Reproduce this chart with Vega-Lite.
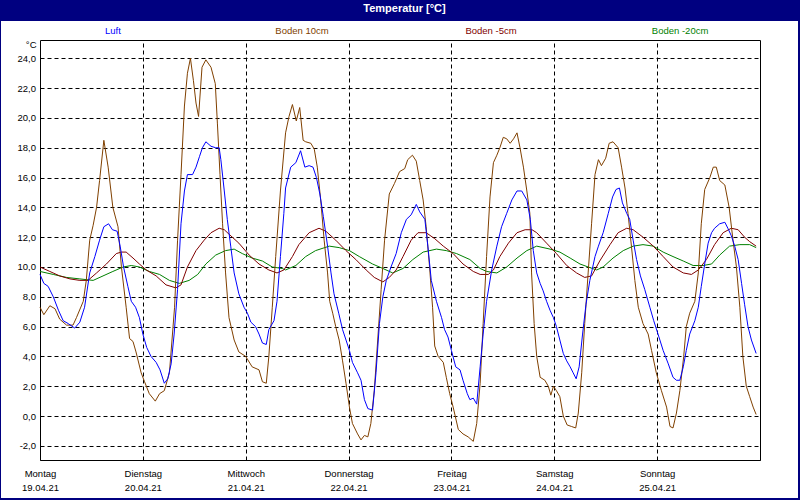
{
 "$schema": "https://vega.github.io/schema/vega-lite/v6.json",
 "autosize": "none",
 "width": 797,
 "height": 477,
 "padding": {"left": 1, "top": 21, "right": 2, "bottom": 2},
 "background": "#000080",
 "config": {
  "view": {"fill": "#ffffff", "stroke": null},
  "font": "Liberation Sans",
  "axis": {"labelFont": "Liberation Sans", "labelFontSize": 9.5, "labelColor": "#000000", "domainColor": "#000000", "domainWidth": 1, "gridColor": "#000000", "gridOpacity": 1, "gridWidth": 1, "gridDash": [4, 3], "ticks": false, "titleFont": "Liberation Sans", "titleFontSize": 9.5, "titleFontWeight": "normal", "titleColor": "#000000"}
 },
 "title": {"text": "Temperatur [°C]", "color": "#ffffff", "font": "Liberation Sans", "fontSize": 11, "fontWeight": "bold", "anchor": "middle", "frame": "group", "baseline": "alphabetic", "offset": 8.3, "dx": 5, "dy": 10.7},
 "datasets": {
  "luft": [{"Zeit":0,"Wert":9.5},{"Zeit":0.9,"Wert":8.9},{"Zeit":1.9,"Wert":8.7},{"Zeit":3.1,"Wert":8.0},{"Zeit":4.3,"Wert":7.1},{"Zeit":5.4,"Wert":6.4},{"Zeit":6.6,"Wert":6.2},{"Zeit":8.1,"Wert":5.9},{"Zeit":9.3,"Wert":6.3},{"Zeit":10.4,"Wert":7.3},{"Zeit":11.6,"Wert":9.6},{"Zeit":12.8,"Wert":10.7},{"Zeit":13.9,"Wert":11.8},{"Zeit":14.9,"Wert":12.7},{"Zeit":16.0,"Wert":12.9},{"Zeit":16.9,"Wert":12.5},{"Zeit":18.0,"Wert":12.4},{"Zeit":18.7,"Wert":11.4},{"Zeit":19.5,"Wert":10.0},{"Zeit":20.5,"Wert":8.7},{"Zeit":21.3,"Wert":7.7},{"Zeit":22.3,"Wert":7.3},{"Zeit":23.2,"Wert":6.6},{"Zeit":24.0,"Wert":5.5},{"Zeit":24.9,"Wert":4.6},{"Zeit":25.9,"Wert":4.0},{"Zeit":27.1,"Wert":3.6},{"Zeit":28.0,"Wert":3.1},{"Zeit":29.0,"Wert":2.2},{"Zeit":29.8,"Wert":2.5},{"Zeit":30.6,"Wert":3.5},{"Zeit":31.3,"Wert":5.5},{"Zeit":32.1,"Wert":8.5},{"Zeit":32.9,"Wert":12.9},{"Zeit":33.7,"Wert":15.1},{"Zeit":34.4,"Wert":16.2},{"Zeit":35.6,"Wert":16.2},{"Zeit":36.4,"Wert":16.7},{"Zeit":37.2,"Wert":17.4},{"Zeit":37.9,"Wert":18.0},{"Zeit":38.7,"Wert":18.4},{"Zeit":39.9,"Wert":18.1},{"Zeit":41.0,"Wert":18.0},{"Zeit":41.8,"Wert":18.0},{"Zeit":42.2,"Wert":17.2},{"Zeit":43.0,"Wert":15.1},{"Zeit":43.7,"Wert":13.2},{"Zeit":44.5,"Wert":11.4},{"Zeit":45.3,"Wert":9.6},{"Zeit":46.4,"Wert":8.2},{"Zeit":47.6,"Wert":7.3},{"Zeit":48.4,"Wert":6.9},{"Zeit":49.2,"Wert":6.3},{"Zeit":50.3,"Wert":6.0},{"Zeit":51.1,"Wert":5.5},{"Zeit":51.9,"Wert":4.9},{"Zeit":52.8,"Wert":4.8},{"Zeit":53.4,"Wert":5.8},{"Zeit":54.6,"Wert":6.4},{"Zeit":55.3,"Wert":7.7},{"Zeit":56.1,"Wert":10.7},{"Zeit":56.9,"Wert":13.6},{"Zeit":57.3,"Wert":15.3},{"Zeit":58.5,"Wert":16.7},{"Zeit":59.7,"Wert":17.0},{"Zeit":60.8,"Wert":17.8},{"Zeit":61.8,"Wert":16.7},{"Zeit":62.8,"Wert":16.8},{"Zeit":63.7,"Wert":16.7},{"Zeit":64.5,"Wert":16.0},{"Zeit":65.3,"Wert":14.9},{"Zeit":66.1,"Wert":13.4},{"Zeit":67.1,"Wert":11.4},{"Zeit":67.9,"Wert":9.6},{"Zeit":68.6,"Wert":8.2},{"Zeit":69.7,"Wert":6.9},{"Zeit":70.6,"Wert":5.8},{"Zeit":71.4,"Wert":5.1},{"Zeit":72.2,"Wert":4.4},{"Zeit":72.9,"Wert":3.6},{"Zeit":74.1,"Wert":2.9},{"Zeit":74.9,"Wert":2.4},{"Zeit":75.7,"Wert":1.1},{"Zeit":76.5,"Wert":0.5},{"Zeit":77.6,"Wert":0.4},{"Zeit":78.4,"Wert":2.9},{"Zeit":79.2,"Wert":6.2},{"Zeit":80.0,"Wert":8.0},{"Zeit":80.8,"Wert":9.1},{"Zeit":81.9,"Wert":10.0},{"Zeit":83.1,"Wert":10.9},{"Zeit":84.3,"Wert":12.3},{"Zeit":85.5,"Wert":13.2},{"Zeit":86.6,"Wert":13.5},{"Zeit":87.8,"Wert":14.2},{"Zeit":88.6,"Wert":13.7},{"Zeit":89.8,"Wert":13.2},{"Zeit":90.5,"Wert":11.4},{"Zeit":91.3,"Wert":9.1},{"Zeit":92.5,"Wert":7.7},{"Zeit":93.7,"Wert":6.6},{"Zeit":94.4,"Wert":5.8},{"Zeit":95.2,"Wert":5.3},{"Zeit":96.0,"Wert":4.4},{"Zeit":97.0,"Wert":3.3},{"Zeit":98.0,"Wert":3.1},{"Zeit":98.7,"Wert":2.4},{"Zeit":99.7,"Wert":1.5},{"Zeit":100.3,"Wert":1.1},{"Zeit":101.1,"Wert":1.2},{"Zeit":101.9,"Wert":0.8},{"Zeit":102.7,"Wert":3.3},{"Zeit":103.4,"Wert":5.5},{"Zeit":104.2,"Wert":7.7},{"Zeit":105.4,"Wert":9.8},{"Zeit":106.6,"Wert":11.4},{"Zeit":107.7,"Wert":12.7},{"Zeit":108.9,"Wert":13.6},{"Zeit":110.1,"Wert":14.5},{"Zeit":111.3,"Wert":15.1},{"Zeit":112.4,"Wert":15.1},{"Zeit":113.6,"Wert":14.5},{"Zeit":114.4,"Wert":13.2},{"Zeit":115.1,"Wert":11.1},{"Zeit":115.9,"Wert":9.6},{"Zeit":116.7,"Wert":8.9},{"Zeit":117.4,"Wert":8.4},{"Zeit":118.2,"Wert":7.7},{"Zeit":119.0,"Wert":7.1},{"Zeit":119.8,"Wert":6.6},{"Zeit":120.5,"Wert":6.0},{"Zeit":121.3,"Wert":5.1},{"Zeit":122.1,"Wert":4.2},{"Zeit":122.9,"Wert":3.7},{"Zeit":123.7,"Wert":3.3},{"Zeit":124.4,"Wert":2.9},{"Zeit":125.1,"Wert":2.5},{"Zeit":125.8,"Wert":3.3},{"Zeit":126.6,"Wert":5.5},{"Zeit":127.4,"Wert":7.5},{"Zeit":128.3,"Wert":9.1},{"Zeit":129.5,"Wert":10.7},{"Zeit":130.3,"Wert":11.4},{"Zeit":131.4,"Wert":12.3},{"Zeit":132.6,"Wert":13.6},{"Zeit":133.6,"Wert":14.7},{"Zeit":134.4,"Wert":15.2},{"Zeit":135.2,"Wert":15.3},{"Zeit":135.9,"Wert":14.3},{"Zeit":136.9,"Wert":13.6},{"Zeit":137.6,"Wert":13.2},{"Zeit":138.4,"Wert":11.8},{"Zeit":139.2,"Wert":10.5},{"Zeit":140.1,"Wert":9.4},{"Zeit":141.1,"Wert":8.5},{"Zeit":142.3,"Wert":7.3},{"Zeit":143.2,"Wert":6.4},{"Zeit":144.2,"Wert":5.5},{"Zeit":145.4,"Wert":4.4},{"Zeit":146.6,"Wert":3.5},{"Zeit":147.7,"Wert":2.6},{"Zeit":148.5,"Wert":2.4},{"Zeit":149.3,"Wert":2.4},{"Zeit":150.1,"Wert":3.3},{"Zeit":150.8,"Wert":4.4},{"Zeit":151.6,"Wert":5.5},{"Zeit":152.8,"Wert":6.4},{"Zeit":153.6,"Wert":7.3},{"Zeit":154.3,"Wert":8.7},{"Zeit":155.1,"Wert":10.2},{"Zeit":155.9,"Wert":11.6},{"Zeit":156.7,"Wert":12.3},{"Zeit":157.4,"Wert":12.6},{"Zeit":158.6,"Wert":12.9},{"Zeit":159.8,"Wert":13.0},{"Zeit":160.5,"Wert":12.6},{"Zeit":161.3,"Wert":12.1},{"Zeit":162.1,"Wert":11.4},{"Zeit":162.9,"Wert":10.5},{"Zeit":163.7,"Wert":8.9},{"Zeit":164.4,"Wert":7.5},{"Zeit":165.2,"Wert":6.0},{"Zeit":166.0,"Wert":5.1},{"Zeit":167.1,"Wert":4.2}],
  "boden10": [{"Zeit":0,"Wert":7.3},{"Zeit":0.9,"Wert":6.8},{"Zeit":2.3,"Wert":7.4},{"Zeit":3.5,"Wert":7.2},{"Zeit":4.6,"Wert":6.5},{"Zeit":6.2,"Wert":6.1},{"Zeit":7.7,"Wert":6.1},{"Zeit":8.5,"Wert":6.6},{"Zeit":10.1,"Wert":7.7},{"Zeit":10.8,"Wert":9.1},{"Zeit":11.6,"Wert":11.8},{"Zeit":12.4,"Wert":12.8},{"Zeit":13.2,"Wert":14.0},{"Zeit":13.9,"Wert":15.8},{"Zeit":14.9,"Wert":18.5},{"Zeit":15.9,"Wert":16.7},{"Zeit":17.0,"Wert":14.0},{"Zeit":18.2,"Wert":12.7},{"Zeit":19.0,"Wert":10.0},{"Zeit":20.1,"Wert":7.3},{"Zeit":20.9,"Wert":5.2},{"Zeit":21.7,"Wert":5.0},{"Zeit":22.4,"Wert":4.3},{"Zeit":23.6,"Wert":2.9},{"Zeit":24.4,"Wert":2.3},{"Zeit":25.5,"Wert":1.5},{"Zeit":26.9,"Wert":1.0},{"Zeit":27.9,"Wert":1.5},{"Zeit":29.0,"Wert":1.7},{"Zeit":30.2,"Wert":2.9},{"Zeit":31.4,"Wert":7.3},{"Zeit":32.1,"Wert":11.8},{"Zeit":32.9,"Wert":16.2},{"Zeit":33.7,"Wert":20.8},{"Zeit":34.4,"Wert":23.0},{"Zeit":35.1,"Wert":24.0},{"Zeit":35.8,"Wert":22.5},{"Zeit":36.4,"Wert":21.0},{"Zeit":37.0,"Wert":20.1},{"Zeit":37.8,"Wert":23.4},{"Zeit":38.7,"Wert":23.9},{"Zeit":39.9,"Wert":23.4},{"Zeit":40.9,"Wert":22.3},{"Zeit":41.4,"Wert":19.6},{"Zeit":42.0,"Wert":16.2},{"Zeit":42.6,"Wert":12.9},{"Zeit":43.3,"Wert":9.6},{"Zeit":44.1,"Wert":6.6},{"Zeit":45.3,"Wert":5.1},{"Zeit":46.4,"Wert":4.3},{"Zeit":48.0,"Wert":4.0},{"Zeit":49.5,"Wert":3.3},{"Zeit":51.1,"Wert":3.1},{"Zeit":51.9,"Wert":2.3},{"Zeit":52.8,"Wert":2.2},{"Zeit":53.4,"Wert":4.0},{"Zeit":54.2,"Wert":7.3},{"Zeit":55.0,"Wert":10.7},{"Zeit":56.1,"Wert":15.1},{"Zeit":57.3,"Wert":19.0},{"Zeit":58.1,"Wert":20.1},{"Zeit":58.9,"Wert":20.9},{"Zeit":59.8,"Wert":19.8},{"Zeit":60.6,"Wert":20.7},{"Zeit":61.4,"Wert":18.5},{"Zeit":62.0,"Wert":18.4},{"Zeit":63.2,"Wert":18.3},{"Zeit":64.0,"Wert":17.9},{"Zeit":64.7,"Wert":16.7},{"Zeit":65.5,"Wert":14.5},{"Zeit":66.3,"Wert":11.8},{"Zeit":67.1,"Wert":9.6},{"Zeit":67.6,"Wert":7.7},{"Zeit":68.3,"Wert":6.9},{"Zeit":69.0,"Wert":6.0},{"Zeit":69.8,"Wert":5.1},{"Zeit":70.6,"Wert":3.7},{"Zeit":71.4,"Wert":2.2},{"Zeit":72.2,"Wert":0.6},{"Zeit":72.9,"Wert":-0.5},{"Zeit":74.1,"Wert":-1.2},{"Zeit":74.9,"Wert":-1.6},{"Zeit":75.7,"Wert":-1.3},{"Zeit":76.5,"Wert":-1.4},{"Zeit":77.2,"Wert":-0.5},{"Zeit":78.0,"Wert":1.7},{"Zeit":78.8,"Wert":5.1},{"Zeit":79.6,"Wert":8.5},{"Zeit":80.4,"Wert":11.8},{"Zeit":81.5,"Wert":14.9},{"Zeit":82.7,"Wert":15.6},{"Zeit":83.9,"Wert":16.4},{"Zeit":85.1,"Wert":16.6},{"Zeit":85.8,"Wert":17.2},{"Zeit":86.9,"Wert":17.5},{"Zeit":87.8,"Wert":17.1},{"Zeit":88.6,"Wert":15.8},{"Zeit":89.4,"Wert":14.5},{"Zeit":90.1,"Wert":12.7},{"Zeit":90.9,"Wert":10.0},{"Zeit":91.6,"Wert":7.3},{"Zeit":92.1,"Wert":4.7},{"Zeit":92.9,"Wert":4.0},{"Zeit":94.1,"Wert":3.6},{"Zeit":94.8,"Wert":2.6},{"Zeit":95.6,"Wert":1.5},{"Zeit":96.4,"Wert":0.6},{"Zeit":97.6,"Wert":-0.9},{"Zeit":98.7,"Wert":-1.2},{"Zeit":99.9,"Wert":-1.4},{"Zeit":101.1,"Wert":-1.7},{"Zeit":101.9,"Wert":-0.5},{"Zeit":102.7,"Wert":2.2},{"Zeit":103.4,"Wert":6.2},{"Zeit":104.2,"Wert":10.7},{"Zeit":105.0,"Wert":14.7},{"Zeit":105.8,"Wert":17.0},{"Zeit":106.6,"Wert":17.5},{"Zeit":107.3,"Wert":18.0},{"Zeit":108.1,"Wert":18.7},{"Zeit":108.9,"Wert":18.6},{"Zeit":109.7,"Wert":18.3},{"Zeit":110.5,"Wert":18.6},{"Zeit":111.3,"Wert":19.0},{"Zeit":112.0,"Wert":18.0},{"Zeit":112.8,"Wert":16.7},{"Zeit":113.6,"Wert":15.1},{"Zeit":114.3,"Wert":13.6},{"Zeit":114.7,"Wert":9.6},{"Zeit":115.3,"Wert":6.2},{"Zeit":115.9,"Wert":4.0},{"Zeit":116.7,"Wert":2.6},{"Zeit":117.8,"Wert":2.4},{"Zeit":118.6,"Wert":2.0},{"Zeit":119.2,"Wert":1.4},{"Zeit":119.8,"Wert":2.0},{"Zeit":120.5,"Wert":1.7},{"Zeit":121.3,"Wert":1.3},{"Zeit":122.1,"Wert":0.0},{"Zeit":123.0,"Wert":-0.6},{"Zeit":124.0,"Wert":-0.7},{"Zeit":125.0,"Wert":-0.8},{"Zeit":125.6,"Wert":0.2},{"Zeit":126.4,"Wert":2.9},{"Zeit":127.1,"Wert":6.2},{"Zeit":127.9,"Wert":9.6},{"Zeit":128.7,"Wert":12.9},{"Zeit":129.5,"Wert":16.2},{"Zeit":130.3,"Wert":17.2},{"Zeit":131.0,"Wert":16.8},{"Zeit":132.0,"Wert":17.3},{"Zeit":132.8,"Wert":18.3},{"Zeit":133.7,"Wert":18.4},{"Zeit":134.9,"Wert":18.0},{"Zeit":135.7,"Wert":16.7},{"Zeit":136.5,"Wert":15.3},{"Zeit":137.2,"Wert":13.6},{"Zeit":138.0,"Wert":11.4},{"Zeit":138.8,"Wert":9.1},{"Zeit":139.6,"Wert":7.3},{"Zeit":140.7,"Wert":6.2},{"Zeit":141.9,"Wert":5.5},{"Zeit":142.7,"Wert":4.4},{"Zeit":143.8,"Wert":2.9},{"Zeit":145.0,"Wert":1.7},{"Zeit":146.2,"Wert":0.6},{"Zeit":147.0,"Wert":-0.7},{"Zeit":147.7,"Wert":-0.8},{"Zeit":148.5,"Wert":0.2},{"Zeit":149.3,"Wert":1.7},{"Zeit":150.2,"Wert":4.0},{"Zeit":150.8,"Wert":6.0},{"Zeit":151.6,"Wert":6.9},{"Zeit":152.8,"Wert":7.7},{"Zeit":153.6,"Wert":9.6},{"Zeit":154.3,"Wert":12.9},{"Zeit":155.1,"Wert":15.2},{"Zeit":156.3,"Wert":16.0},{"Zeit":157.1,"Wert":16.7},{"Zeit":157.8,"Wert":16.7},{"Zeit":158.6,"Wert":15.8},{"Zeit":159.8,"Wert":15.5},{"Zeit":160.8,"Wert":14.0},{"Zeit":161.7,"Wert":11.8},{"Zeit":162.5,"Wert":10.0},{"Zeit":163.3,"Wert":7.3},{"Zeit":164.0,"Wert":4.0},{"Zeit":164.8,"Wert":2.0},{"Zeit":165.6,"Wert":1.3},{"Zeit":166.4,"Wert":0.6},{"Zeit":167.1,"Wert":0.1}],
  "boden5": [{"Zeit":0,"Wert":10.0},{"Zeit":2.3,"Wert":9.7},{"Zeit":4.6,"Wert":9.4},{"Zeit":7.0,"Wert":9.2},{"Zeit":9.3,"Wert":9.1},{"Zeit":11.2,"Wert":9.1},{"Zeit":13.2,"Wert":9.6},{"Zeit":15.5,"Wert":10.2},{"Zeit":17.8,"Wert":10.9},{"Zeit":19.0,"Wert":11.0},{"Zeit":20.1,"Wert":11.0},{"Zeit":21.7,"Wert":10.6},{"Zeit":23.2,"Wert":10.2},{"Zeit":24.8,"Wert":9.8},{"Zeit":27.1,"Wert":9.4},{"Zeit":29.4,"Wert":8.8},{"Zeit":31.7,"Wert":8.6},{"Zeit":32.9,"Wert":8.8},{"Zeit":34.4,"Wert":10.0},{"Zeit":36.4,"Wert":11.1},{"Zeit":38.3,"Wert":11.8},{"Zeit":39.9,"Wert":12.3},{"Zeit":41.8,"Wert":12.6},{"Zeit":43.0,"Wert":12.5},{"Zeit":44.1,"Wert":12.2},{"Zeit":46.4,"Wert":11.6},{"Zeit":48.8,"Wert":10.8},{"Zeit":51.1,"Wert":10.2},{"Zeit":53.4,"Wert":9.8},{"Zeit":55.3,"Wert":9.6},{"Zeit":56.9,"Wert":9.8},{"Zeit":58.9,"Wert":10.7},{"Zeit":60.4,"Wert":11.5},{"Zeit":62.8,"Wert":12.3},{"Zeit":65.1,"Wert":12.6},{"Zeit":66.7,"Wert":12.4},{"Zeit":69.0,"Wert":11.8},{"Zeit":71.4,"Wert":11.1},{"Zeit":73.7,"Wert":10.5},{"Zeit":76.1,"Wert":9.8},{"Zeit":78.0,"Wert":9.3},{"Zeit":80.0,"Wert":9.0},{"Zeit":81.5,"Wert":9.3},{"Zeit":83.1,"Wert":9.8},{"Zeit":84.7,"Wert":10.7},{"Zeit":86.6,"Wert":11.8},{"Zeit":88.2,"Wert":12.3},{"Zeit":90.1,"Wert":12.3},{"Zeit":92.1,"Wert":11.9},{"Zeit":94.1,"Wert":11.4},{"Zeit":96.4,"Wert":10.9},{"Zeit":98.7,"Wert":10.2},{"Zeit":101.1,"Wert":9.7},{"Zeit":102.7,"Wert":9.5},{"Zeit":104.6,"Wert":9.5},{"Zeit":105.8,"Wert":9.8},{"Zeit":107.3,"Wert":10.7},{"Zeit":109.3,"Wert":11.6},{"Zeit":111.3,"Wert":12.3},{"Zeit":113.2,"Wert":12.5},{"Zeit":114.8,"Wert":12.5},{"Zeit":115.9,"Wert":12.3},{"Zeit":118.2,"Wert":11.6},{"Zeit":120.5,"Wert":10.9},{"Zeit":122.9,"Wert":10.1},{"Zeit":125.2,"Wert":9.6},{"Zeit":127.1,"Wert":9.3},{"Zeit":128.7,"Wert":9.4},{"Zeit":130.6,"Wert":10.4},{"Zeit":133.0,"Wert":11.5},{"Zeit":134.9,"Wert":12.3},{"Zeit":136.9,"Wert":12.6},{"Zeit":138.4,"Wert":12.5},{"Zeit":140.7,"Wert":12.0},{"Zeit":143.1,"Wert":11.4},{"Zeit":145.4,"Wert":10.7},{"Zeit":147.7,"Wert":10.0},{"Zeit":150.1,"Wert":9.6},{"Zeit":152.0,"Wert":9.5},{"Zeit":153.6,"Wert":9.8},{"Zeit":155.5,"Wert":10.5},{"Zeit":157.4,"Wert":11.5},{"Zeit":159.4,"Wert":12.3},{"Zeit":161.3,"Wert":12.6},{"Zeit":162.9,"Wert":12.5},{"Zeit":164.4,"Wert":12.0},{"Zeit":165.6,"Wert":11.7},{"Zeit":167.1,"Wert":11.4}],
  "boden20": [{"Zeit":0,"Wert":9.7},{"Zeit":3.1,"Wert":9.5},{"Zeit":6.2,"Wert":9.3},{"Zeit":9.3,"Wert":9.2},{"Zeit":12.4,"Wert":9.1},{"Zeit":14.7,"Wert":9.4},{"Zeit":17.0,"Wert":9.7},{"Zeit":19.4,"Wert":10.0},{"Zeit":21.3,"Wert":10.1},{"Zeit":23.2,"Wert":10.0},{"Zeit":25.5,"Wert":9.7},{"Zeit":27.9,"Wert":9.5},{"Zeit":30.2,"Wert":9.1},{"Zeit":32.5,"Wert":8.9},{"Zeit":34.8,"Wert":9.1},{"Zeit":36.8,"Wert":9.5},{"Zeit":38.7,"Wert":10.2},{"Zeit":41.0,"Wert":10.8},{"Zeit":43.3,"Wert":11.1},{"Zeit":45.3,"Wert":11.2},{"Zeit":47.2,"Wert":10.9},{"Zeit":49.5,"Wert":10.6},{"Zeit":51.9,"Wert":10.4},{"Zeit":54.2,"Wert":10.0},{"Zeit":56.5,"Wert":9.9},{"Zeit":57.3,"Wert":9.8},{"Zeit":59.7,"Wert":10.1},{"Zeit":62.0,"Wert":10.7},{"Zeit":64.3,"Wert":11.1},{"Zeit":67.5,"Wert":11.4},{"Zeit":69.8,"Wert":11.3},{"Zeit":72.2,"Wert":11.1},{"Zeit":74.5,"Wert":10.7},{"Zeit":77.6,"Wert":10.2},{"Zeit":80.0,"Wert":9.9},{"Zeit":82.3,"Wert":9.6},{"Zeit":84.7,"Wert":9.9},{"Zeit":87.0,"Wert":10.5},{"Zeit":89.4,"Wert":11.0},{"Zeit":92.5,"Wert":11.2},{"Zeit":94.8,"Wert":11.1},{"Zeit":97.2,"Wert":10.9},{"Zeit":100.3,"Wert":10.5},{"Zeit":102.7,"Wert":9.9},{"Zeit":104.2,"Wert":9.7},{"Zeit":106.6,"Wert":9.6},{"Zeit":108.9,"Wert":10.0},{"Zeit":111.3,"Wert":10.6},{"Zeit":113.6,"Wert":11.1},{"Zeit":115.9,"Wert":11.4},{"Zeit":119.0,"Wert":11.2},{"Zeit":121.3,"Wert":11.0},{"Zeit":123.7,"Wert":10.6},{"Zeit":126.0,"Wert":10.2},{"Zeit":127.9,"Wert":10.0},{"Zeit":129.9,"Wert":9.8},{"Zeit":131.4,"Wert":10.0},{"Zeit":133.7,"Wert":10.6},{"Zeit":136.1,"Wert":11.1},{"Zeit":138.4,"Wert":11.4},{"Zeit":140.7,"Wert":11.5},{"Zeit":143.1,"Wert":11.4},{"Zeit":145.4,"Wert":11.0},{"Zeit":147.7,"Wert":10.7},{"Zeit":150.1,"Wert":10.4},{"Zeit":152.4,"Wert":10.1},{"Zeit":154.7,"Wert":10.1},{"Zeit":156.7,"Wert":10.2},{"Zeit":158.6,"Wert":10.8},{"Zeit":160.9,"Wert":11.4},{"Zeit":163.3,"Wert":11.5},{"Zeit":165.6,"Wert":11.5},{"Zeit":167.1,"Wert":11.3}]
 },
 "layer": [
  {
   "layer": [
    {
     "data": {"name": "boden20"},
     "mark": {"type": "line", "color": "#008000", "strokeWidth": 1},
     "encoding": {
      "x": {"field": "Zeit", "type": "quantitative", "scale": {"domain": [0, 168], "range": [39, 759], "nice": false, "zero": false}, "axis": null},
      "y": {"field": "Wert", "type": "quantitative", "scale": {"domain": [-2.95, 25.23], "range": [439, 19], "nice": false, "zero": false}, "axis": null}
     }
    },
    {
     "data": {"name": "boden5"},
     "mark": {"type": "line", "color": "#800000", "strokeWidth": 1},
     "encoding": {
      "x": {"field": "Zeit", "type": "quantitative", "scale": {"domain": [0, 168], "range": [39, 759], "nice": false, "zero": false}, "axis": null},
      "y": {"field": "Wert", "type": "quantitative", "scale": {"domain": [-2.95, 25.23], "range": [439, 19], "nice": false, "zero": false}, "axis": null}
     }
    },
    {
     "data": {"name": "boden10"},
     "mark": {"type": "line", "color": "#804000", "strokeWidth": 1},
     "encoding": {
      "x": {"field": "Zeit", "type": "quantitative", "scale": {"domain": [0, 168], "range": [39, 759], "nice": false, "zero": false},
            "axis": {"orient": "top", "offset": -19, "values": [0, 24, 48, 72, 96, 120, 144, 168], "grid": true, "labels": false, "domain": true, "title": null}},
      "y": {"field": "Wert", "type": "quantitative", "scale": {"domain": [-2.95, 25.23], "range": [439, 19], "nice": false, "zero": false},
            "axis": {"orient": "right", "offset": -38, "values": [0], "grid": false, "labels": false, "domain": true, "title": null}}
     }
    },
    {
     "data": {"name": "luft"},
     "mark": {"type": "line", "color": "#0000ff", "strokeWidth": 1},
     "encoding": {
      "x": {"field": "Zeit", "type": "quantitative", "scale": {"domain": [0, 168], "range": [39, 759], "nice": false, "zero": false},
            "axis": {"orient": "bottom", "offset": -38, "values": [0, 24, 48, 72, 96, 120, 144], "grid": false, "domain": true, "title": null,
                     "labelExpr": "[['Montag','Dienstag','Mittwoch','Donnerstag','Freitag','Samstag','Sonntag'][datum.value/24], ['19.04.21','20.04.21','21.04.21','22.04.21','23.04.21','24.04.21','25.04.21'][datum.value/24]]",
                     "labelAlign": "center", "labelBaseline": "top", "labelPadding": 8, "labelLineHeight": 14.6, "labelDx": -3, "labelOverlap": false, "labelFlush": false}},
      "y": {"field": "Wert", "type": "quantitative", "scale": {"domain": [-2.95, 25.23], "range": [439, 19], "nice": false, "zero": false},
            "axis": {"orient": "left", "offset": -39, "values": [-2, 0, 2, 4, 6, 8, 10, 12, 14, 16, 18, 20, 22, 24], "grid": true, "domain": true,
                     "labelExpr": "replace(replace(format(datum.value, '.1f'), '.', ','), '\u2212', '-')",
                     "labelPadding": 4.5, "labelBaseline": "middle", "labelOverlap": false, "labelFlush": false,
                     "title": "°C", "titleAngle": 0, "titleAlign": "right", "titleBaseline": "middle", "titleX": -4, "titleY": 23.5}}
     }
    }
   ],
   "resolve": {"axis": {"x": "independent", "y": "independent"}}
  },
  {
   "data": {"values": [{"Reihe": "Luft"}, {"Reihe": "Boden 10cm"}, {"Reihe": "Boden -5cm"}, {"Reihe": "Boden -20cm"}]},
   "mark": {"type": "text", "font": "Liberation Sans", "fontSize": 9.5, "baseline": "alphabetic", "align": "center"},
   "encoding": {
    "x": {"field": "Reihe", "type": "nominal", "sort": null, "scale": {"type": "point", "padding": 0.608, "align": 0.487}, "axis": null},
    "y": {"datum": 25.65, "type": "quantitative", "axis": null},
    "text": {"field": "Reihe"},
    "color": {"field": "Reihe", "type": "nominal", "scale": {"domain": ["Luft", "Boden 10cm", "Boden -5cm", "Boden -20cm"], "range": ["#0000ff", "#804000", "#800000", "#008000"]}, "legend": null}
   }
  }
 ],
 "resolve": {"scale": {"x": "independent"}, "axis": {"x": "independent", "y": "independent"}}
}
